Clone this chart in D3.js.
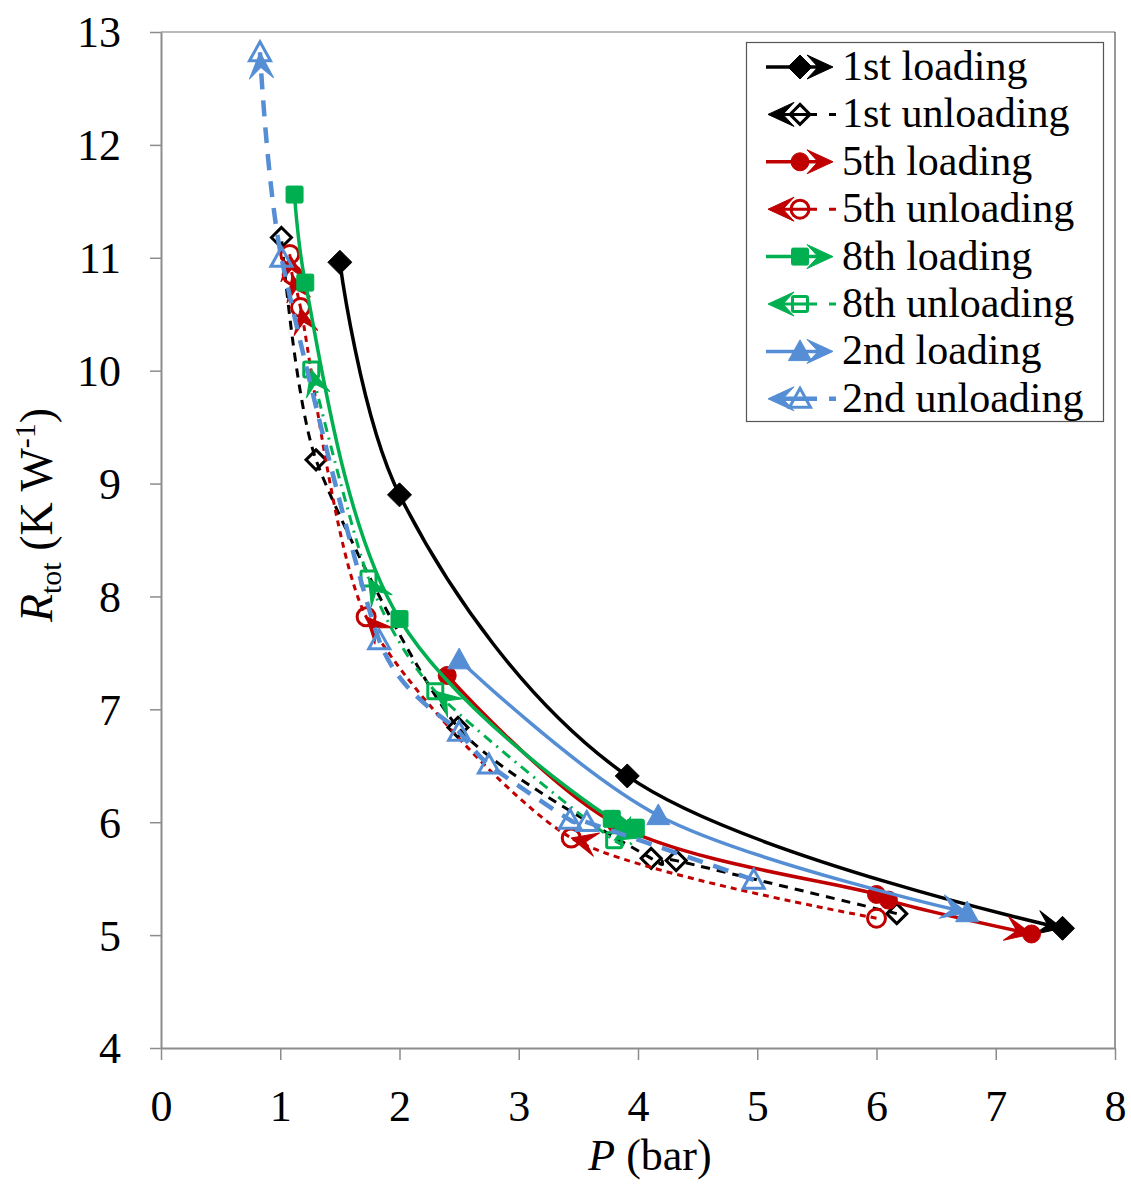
<!DOCTYPE html>
<html><head><meta charset="utf-8">
<script src="https://cdn.jsdelivr.net/npm/d3@7"></script>
<style>body{margin:0;background:#fff} svg text{font-family:"Liberation Serif","Times New Roman",Times,serif;}</style>
</head><body><svg id="c" width="1131" height="1184"></svg>
<script>
// ---- data ----
const seriesNames = ["1st loading","1st unloading","5th loading","5th unloading","8th loading","8th unloading","2nd loading","2nd unloading"];
const p1Load = [1.50, 2.00, 3.91, 7.56];
const r1Load = [10.96, 8.90, 6.41, 5.06];
const p1Unload = [6.17, 4.32, 4.11, 2.49, 1.30, 1.01];
const r1Unload = [5.19, 5.66, 5.68, 6.84, 9.21, 11.18];
const p5Load = [2.40, 3.82, 6.00, 6.10, 7.30];
const r5Load = [7.30, 5.98, 5.36, 5.31, 5.01];
const p5Unload = [6.00, 3.44, 1.72, 1.17, 1.10, 1.08];
const r5Unload = [5.15, 5.86, 7.82, 10.56, 10.85, 11.03];
const p8Load = [1.12, 1.21, 2.00, 3.78, 3.98];
const r8Load = [11.56, 10.78, 7.80, 6.03, 5.95];
const p8Unload = [3.98, 3.80, 2.30, 1.74, 1.26];
const r8Unload = [5.95, 5.84, 7.16, 8.16, 10.01];
const p2Load = [2.50, 4.17, 6.76];
const r2Load = [7.44, 6.06, 5.20];
const p2Unload = [4.97, 3.57, 3.43, 2.75, 2.50, 1.83, 1.01, 0.83];
const r2Unload = [5.49, 6.00, 6.02, 6.51, 6.80, 7.61, 11.00, 12.82];
const xTicks = [0,1,2,3,4,5,6,7,8];
const yTicks = [4,5,6,7,8,9,10,11,12,13];

// ---- styles ----
const BLACK="#000000", RED="#C00000", GREEN="#00B050", BLUE="#558ED5";
const series = [
  {name:seriesNames[0], p:p1Load,  r:r1Load,  color:BLACK, dash:null,        w:3.5, marker:"diamond",  filled:true,  arrows:"end"},
  {name:seriesNames[1], p:p1Unload,r:r1Unload,color:BLACK, dash:"9,7",       w:3,   marker:"diamond",  filled:false, arrows:"none"},
  {name:seriesNames[2], p:p5Load,  r:r5Load,  color:RED,   dash:null,        w:3.5, marker:"circle",   filled:true,  arrows:"end"},
  {name:seriesNames[3], p:p5Unload,r:r5Unload,color:RED,   dash:"6,5",       w:3,   marker:"circle",   filled:false, arrows:"each"},
  {name:seriesNames[4], p:p8Load,  r:r8Load,  color:GREEN, dash:null,        w:3.5, marker:"square",   filled:true,  arrows:"end"},
  {name:seriesNames[5], p:p8Unload,r:r8Unload,color:GREEN, dash:"10,6,2,6",  w:3,   marker:"square",   filled:false, arrows:"each"},
  {name:seriesNames[6], p:p2Load,  r:r2Load,  color:BLUE,  dash:null,        w:3.5, marker:"triangle", filled:true,  arrows:"end"},
  {name:seriesNames[7], p:p2Unload,r:r2Unload,color:BLUE,  dash:"16,11",     w:4.5, marker:"triangle", filled:false, arrows:"end"}
];

const svg = d3.select("#c");
const FONT = "Liberation Serif, Times New Roman, Times, serif";
const L=161, R=1115, T=32, B=1048;
const x = d3.scaleLinear().domain([0,8]).range([L,R]);
const y = d3.scaleLinear().domain([4,13]).range([B,T]);

// plot border top/right
svg.append("line").attr("x1",L).attr("x2",R).attr("y1",T).attr("y2",T).attr("stroke","#777").attr("stroke-width",1.2);
svg.append("line").attr("x1",R).attr("x2",R).attr("y1",T).attr("y2",B).attr("stroke","#333").attr("stroke-width",1);

// axes
const xa = svg.append("g").attr("transform",`translate(0,${B})`)
  .call(d3.axisBottom(x).tickValues(xTicks).tickFormat(d3.format("d")).tickSize(12).tickSizeOuter(0));
const ya = svg.append("g").attr("transform",`translate(${L},0)`)
  .call(d3.axisLeft(y).tickValues(yTicks).tickFormat(d3.format("d")).tickSize(11).tickSizeOuter(0));
[xa,ya].forEach(a=>{
  a.attr("font-family",FONT).attr("font-size",44);
  a.select(".domain").attr("stroke","#8c8c8c").attr("stroke-width",2);
  a.selectAll(".tick line").attr("stroke","#8c8c8c").attr("stroke-width",1.5);
  a.selectAll(".tick text").attr("fill","#000").attr("font-family",FONT).attr("font-size",44);
});
xa.selectAll(".tick text").attr("y",73).attr("dy",0);
ya.selectAll(".tick text").attr("x",-40).attr("dy","0.34em");

// axis titles
const xt = svg.append("text").attr("x",650).attr("y",1170).attr("text-anchor","middle")
  .attr("font-family",FONT).attr("font-size",44);
xt.append("tspan").attr("font-style","italic").text("P");
xt.append("tspan").text(" (bar)");

const yt = svg.append("text").attr("transform","translate(52,515) rotate(-90)").attr("text-anchor","middle")
  .attr("font-family",FONT).attr("font-size",46);
yt.append("tspan").attr("font-style","italic").text("R");
yt.append("tspan").attr("dy",9).attr("font-size",30).text("tot");
yt.append("tspan").attr("dy",-9).text(" (K W");
yt.append("tspan").attr("dy",-17).attr("font-size",30).text("-1");
yt.append("tspan").attr("dy",17).text(")");

// marker + arrow helpers
function drawMarker(g, type, cx, cy, color, filled){
  const sw = 3;
  let el;
  if(type==="diamond"){
    const s = filled?12:10;
    el = g.append("path").attr("d",`M${cx},${cy-s}L${cx+s},${cy}L${cx},${cy+s}L${cx-s},${cy}Z`);
  } else if(type==="circle"){
    el = g.append("circle").attr("cx",cx).attr("cy",cy).attr("r",filled?9:9);
  } else if(type==="square"){
    const s = filled?8.5:7.5;
    el = g.append("rect").attr("x",cx-s).attr("y",cy-s).attr("width",2*s).attr("height",2*s).attr("rx",1.5);
  } else {
    const s = filled?11.5:10.5;
    el = g.append("path").attr("d",`M${cx},${cy-s}L${cx+s},${cy+s*0.8}L${cx-s},${cy+s*0.8}Z`);
  }
  if(filled) el.attr("fill",color).attr("stroke",color).attr("stroke-width",1);
  else el.attr("fill","none").attr("stroke",color).attr("stroke-width",sw).attr("stroke-linejoin","miter");
}
function drawArrow(g, tx, ty, ang, color){
  g.append("path").attr("d","M0,0L-26,-12L-15,0L-26,12Z")
    .attr("transform",`translate(${tx},${ty}) rotate(${ang*180/Math.PI})`)
    .attr("fill",color).attr("stroke",color).attr("stroke-width",1).attr("stroke-linejoin","round");
}

const lineLoad = d3.line().x(d=>x(d[0])).y(d=>y(d[1])).curve(d3.curveCatmullRom.alpha(0.5));
const lineUnload = d3.line().x(d=>x(d[0])).y(d=>y(d[1])).curve(d3.curveCardinal.tension(0.3));
const plot = svg.append("g");
series.forEach(s=>{
  const pts = s.p.map((v,i)=>[v,s.r[i]]);
  const g = plot.append("g");
  const gen = s.dash ? lineUnload : lineLoad;
  const path = g.append("path").attr("d",gen(pts)).attr("fill","none")
    .attr("stroke",s.color).attr("stroke-width",s.w).attr("stroke-linecap","butt");
  if(s.dash) path.attr("stroke-dasharray",s.dash);
  if(s.arrows==="end"){
    const n = path.node(), len = n.getTotalLength();
    const a = n.getPointAtLength(len-6), b = n.getPointAtLength(len);
    drawArrow(g, b.x, b.y, Math.atan2(b.y-a.y,b.x-a.x), s.color);
  } else if(s.arrows==="each"){
    for(let i=1;i<pts.length;i++){
      const ax=x(pts[i-1][0]), ay=y(pts[i-1][1]), bx=x(pts[i][0]), by=y(pts[i][1]);
      drawArrow(g, bx, by, Math.atan2(by-ay,bx-ax), s.color);
    }
  }
  pts.forEach(d=>drawMarker(g, s.marker, x(d[0]), y(d[1]), s.color, s.filled));
});

// legend
const lg = svg.append("g");
lg.append("rect").attr("x",746.5).attr("y",42.5).attr("width",357).attr("height",379)
  .attr("fill","#fff").attr("stroke","#555").attr("stroke-width",1.2);
series.forEach((s,i)=>{
  const cy = 67 + i*47.4;
  const g = lg.append("g");
  const loading = s.dash===null;
  if(loading){
    g.append("line").attr("x1",766).attr("x2",826).attr("y1",cy).attr("y2",cy)
      .attr("stroke",s.color).attr("stroke-width",3.5);
    drawMarker(g, s.marker, 800, cy, s.color, true);
    drawArrow(g, 833, cy, 0, s.color);
  } else {
    g.append("line").attr("x1",772).attr("x2",836).attr("y1",cy).attr("y2",cy)
      .attr("stroke",s.color).attr("stroke-width",s.w).attr("stroke-dasharray","45,12,7,50");
    drawArrow(g, 768, cy, Math.PI, s.color);
    drawMarker(g, s.marker, 800, cy, s.color, false);
  }
  g.append("text").attr("x",842).attr("y",cy+13).attr("font-family",FONT).attr("font-size",42).text(s.name);
});
</script></body></html>
